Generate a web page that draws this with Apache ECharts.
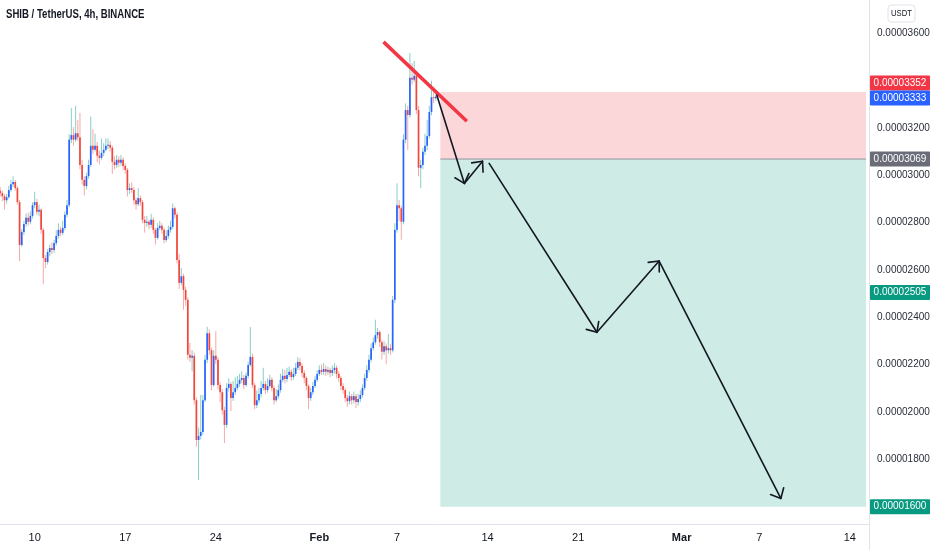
<!DOCTYPE html>
<html>
<head>
<meta charset="utf-8">
<script src="https://cdn.jsdelivr.net/npm/echarts@6/dist/echarts.min.js"></script>
<style>html,body{margin:0;padding:0;background:#fff;}#c{width:932px;height:550px;}</style>
</head>
<body>
<div id="c"></div>
<script>
// ---- DATA (prices in units of 1e-8 USDT) ----
const firstCandle = '2022-01-07T08:00:00Z';
const candleHours = 4;
const firstOpen = 2935;
const closes = [
2925,2912,2895,2908,2938,2963,2972,2946,2887,2706,
2761,2795,2821,2804,2829,2874,2887,2846,2855,2770,
2651,2634,2676,2693,2685,2714,2744,2770,2757,2778,
2834,2874,3151,3170,3151,3178,3161,3044,2981,2955,
2997,3044,3125,3108,3125,3083,3074,3095,3108,3125,
3129,3117,3057,3044,3066,3053,3066,3040,3023,2938,
2946,2938,2895,2878,2904,2887,2812,2799,2804,2791,
2812,2770,2736,2778,2787,2770,2727,2744,2770,2782,
2861,2834,2642,2546,2574,2516,2474,2242,2229,2238,
2050,1882,1899,1916,2050,2221,2333,2261,2114,2238,
2221,2114,2084,2008,1946,2102,2119,2059,2084,2102,
2119,2136,2144,2114,2153,2199,2233,2114,2029,2050,
2076,2102,2119,2093,2110,2136,2102,2050,2067,2093,
2136,2153,2140,2157,2170,2148,2161,2187,2212,2195,
2165,2144,2110,2059,2084,2110,2136,2161,2178,2170,
2182,2170,2178,2165,2178,2187,2161,2144,2110,2093,
2059,2046,2067,2050,2067,2042,2055,2072,2102,2144,
2178,2221,2270,2295,2325,2338,2295,2255,2278,2261,
2270,2261,2474,2770,2874,2861,2804,3151,3276,3255,
3413,3404,3421,3276,3032,3044,3100,3125,3166,3268,
3330,3326,3333];
const highs = [
2951,2936,2921,2921,2956,2981,2996,2981,2954,2896,
2773,2808,2838,2843,2848,2886,2931,2901,2876,2861,
2778,2663,2688,2708,2718,2728,2768,2798,2783,2808,
2848,2896,3174,3284,3204,3294,3234,3264,3066,2996,
3011,3066,3249,3196,3176,3141,3106,3156,3136,3156,
3156,3146,3126,3081,3086,3081,3086,3076,3051,3031,
2966,2971,2951,2906,2946,2916,2896,2828,2828,2813,
2838,2823,2778,2798,2808,2798,2778,2768,2788,2808,
2881,2868,2843,2668,2608,2585,2530,2485,2292,2262,
2252,2062,1934,2072,2072,2242,2360,2350,2272,2262,
2342,2232,2127,2097,2022,2122,2142,2127,2132,2147,
2152,2162,2172,2157,2167,2212,2359,2247,2122,2092,
2102,2132,2187,2132,2142,2157,2147,2112,2097,2117,
2162,2182,2177,2187,2192,2182,2187,2207,2232,2227,
2207,2177,2152,2117,2102,2127,2152,2177,2197,2202,
2207,2197,2192,2187,2197,2207,2197,2172,2152,2122,
2102,2072,2087,2077,2087,2077,2077,2092,2117,2162,
2197,2242,2290,2315,2390,2355,2345,2305,2300,2290,
2330,2287,2490,2798,2966,2896,2871,3174,3304,3294,
3517,3474,3484,3434,3294,3066,3116,3176,3234,3294,
3400,3360,3355];
const lows = [
2911,2891,2856,2881,2901,2931,2951,2936,2876,2638,
2698,2748,2783,2788,2793,2818,2861,2833,2828,2753,
2540,2608,2623,2658,2668,2673,2703,2733,2743,2748,
2768,2823,2866,3136,3126,3141,3146,3026,2961,2916,
2941,2986,3036,3091,3101,3056,3046,3066,3081,3101,
3111,3101,3006,3026,3031,3036,3041,3021,3006,2911,
2921,2926,2876,2856,2871,2871,2798,2758,2783,2773,
2778,2753,2708,2728,2768,2753,2713,2718,2733,2758,
2773,2818,2628,2520,2535,2432,2450,2222,2212,2172,
2032,1854,1713,1884,1904,2042,2207,2242,2092,2107,
2202,2097,2042,1989,1869,1934,2087,2004,2047,2072,
2092,2107,2122,2097,2107,2142,2192,2102,2012,2017,
2037,2062,2092,2077,2082,2102,2087,2032,2042,2057,
2082,2127,2122,2127,2147,2132,2137,2152,2177,2177,
2147,2122,2092,2012,2047,2072,2102,2127,2152,2157,
2157,2152,2157,2147,2152,2162,2142,2127,2092,2077,
2042,2022,2032,2032,2037,2017,2027,2042,2062,2092,
2132,2167,2210,2260,2285,2310,2275,2222,2242,2202,
2247,2242,2252,2460,2758,2808,2728,2793,3136,3108,
3244,3384,3394,3259,2996,2946,3026,3086,3106,3156,
3254,3305,3315];

// time axis labels
const timeLabelDates = ['2022-01-10','2022-01-17','2022-01-24','2022-02-01','2022-02-07','2022-02-14','2022-02-21','2022-03-01','2022-03-07','2022-03-14'];
const timeLabels = ['10','17','24','Feb','7','14','21','Mar','7','14'];
const monthLabels = ['Feb','Mar'];
// price axis labels
const priceTicks = [1800,2000,2200,2400,2600,2800,3000,3200,3600];
// right-scale price tags
const tagValues = [3352,3333,3069,2505,1600];

// position drawing (short): stop / entry / target, start & end date
const stopPrice = 3352, entryPrice = 3069, targetPrice = 1600;
const boxStart = '2022-02-10T08:24:00Z', boxEnd = '2022-03-15T06:00:00Z';
// red trend line
const trendDates = ['2022-02-05T23:00:00Z','2022-02-12T09:36:00Z'];
const trendPrices = [3564,3229];
// projected black arrow path
const pathDates = ['2022-02-10T02:00:00Z','2022-02-12T05:00:00Z','2022-02-13T14:40:00Z'];
const pathPrices = [3339,2966,3060];
const path2Dates = ['2022-02-14T03:00:00Z','2022-02-22T10:50:00Z','2022-02-27T06:15:00Z','2022-03-08T16:00:00Z'];
const path2Prices = [3051,2337,2638,1635];

// ---- helpers ----
const DAY = 86400000;
const ref = Date.parse('2022-01-10T00:00:00Z');
const toDay = s => (Date.parse(s.length === 10 ? s + 'T00:00:00Z' : s) - ref) / DAY;
const fmt = v => (v / 1e8).toFixed(8);

const t0 = toDay(firstCandle);
const opens = [firstOpen].concat(closes.slice(0, -1));
const candleData = closes.map((c, i) => [t0 + i * candleHours / 24, opens[i], c, lows[i], highs[i]]);

const labelDays = timeLabelDates.map(toDay);
const labelMap = {};
labelDays.forEach((d, i) => { labelMap[d.toFixed(3)] = timeLabels[i]; });

const segs = [];
for (let i = 0; i + 1 < pathDates.length; i++) segs.push([toDay(pathDates[i]), pathPrices[i], toDay(pathDates[i+1]), pathPrices[i+1]]);
for (let i = 0; i + 1 < path2Dates.length; i++) segs.push([toDay(path2Dates[i]), path2Prices[i], toDay(path2Dates[i+1]), path2Prices[i+1]]);

const F = "'Liberation Sans',Arial,sans-serif";
const xMin = -2.68, xMax = 64.48;

const chart = echarts.init(document.getElementById('c'), null, {renderer: 'canvas'});

const option = {
  animation: false,
  backgroundColor: '#ffffff',
  grid: {left: 0, right: 63, top: 0, bottom: 26, containLabel: false, outerBoundsMode: 'none'},
  xAxis: {
    type: 'value', min: xMin, max: xMax,
    splitLine: {show: false},
    axisLine: {show: true, onZero: false, lineStyle: {color: '#e0e3eb', width: 1}},
    axisTick: {show: false},
    axisLabel: {
      customValues: labelDays,
      margin: 8,
      hideOverlap: false,
      fontFamily: F, fontSize: 11, color: '#131722',
      formatter: v => {
        const s = labelMap[v.toFixed(3)] || '';
        return monthLabels.indexOf(s) >= 0 ? '{b|' + s + '}' : s;
      },
      rich: {b: {fontWeight: 'bold', fontFamily: F, fontSize: 11, color: '#131722'}}
    }
  },
  yAxis: {
    type: 'value', position: 'right', min: 1527, max: 3741,
    splitLine: {show: false},
    axisLine: {show: true, onZero: false, lineStyle: {color: '#e0e3eb', width: 1}},
    axisTick: {show: false},
    axisLabel: {
      customValues: priceTicks,
      margin: 8,
      fontFamily: F, fontSize: 10, color: '#2a2e39',
      formatter: v => fmt(v)
    }
  },
  series: [
    {
      // position boxes
      type: 'custom',
      z: 1,
      silent: true,
      data: [[toDay(boxStart), stopPrice, toDay(boxEnd), entryPrice, 0], [toDay(boxStart), entryPrice, toDay(boxEnd), targetPrice, 1]],
      encode: {x: [0, 2], y: [1, 3]},
      renderItem: (params, api) => {
        const a = api.coord([api.value(0), api.value(1)]);
        const b = api.coord([api.value(2), api.value(3)]);
        const red = api.value(4) === 0;
        const children = [{
          type: 'rect',
          shape: {x: a[0], y: Math.min(a[1], b[1]), width: b[0] - a[0], height: Math.abs(b[1] - a[1])},
          style: {fill: red ? 'rgba(242,54,69,0.2)' : 'rgba(8,153,129,0.2)'}
        }];
        if (!red) children.push({
          type: 'line', shape: {x1: a[0], y1: a[1], x2: b[0], y2: a[1]},
          style: {stroke: 'rgba(120,123,134,0.75)', lineWidth: 1}
        });
        return {type: 'group', children};
      }
    },
    {
      // candles
      type: 'custom',
      z: 2,
      silent: true,
      data: candleData,
      encode: {x: 0, y: [1, 2, 3, 4]},
      renderItem: (params, api) => {
        const x = api.value(0), o = api.value(1), c = api.value(2), l = api.value(3), h = api.value(4);
        const pO = api.coord([x, o]), pC = api.coord([x, c]), pL = api.coord([x, l]), pH = api.coord([x, h]);
        const up = c >= o;
        const bw = 1.7;
        const top = Math.min(pO[1], pC[1]);
        const hh = Math.max(Math.abs(pO[1] - pC[1]), 1);
        return {type: 'group', children: [
          {type: 'line', shape: {x1: pH[0], y1: pH[1], x2: pL[0], y2: pL[1]},
           style: {stroke: up ? 'rgba(38,166,154,0.55)' : 'rgba(239,83,80,0.5)', lineWidth: 1}},
          {type: 'rect', shape: {x: pO[0] - bw / 2, y: top, width: bw, height: hh},
           style: {fill: up ? '#2962ff' : '#f0463c'}}
        ]};
      }
    },
    {
      // red trend line
      type: 'line',
      z: 4,
      silent: true,
      symbol: 'none',
      data: trendDates.map((d, i) => [toDay(d), trendPrices[i]]),
      lineStyle: {color: '#f23645', width: 3.5, cap: 'butt'}
    },
    {
      // black arrows
      type: 'custom',
      z: 5,
      silent: true,
      data: segs,
      encode: {x: [0, 2], y: [1, 3]},
      renderItem: (params, api) => {
        const p1 = api.coord([api.value(0), api.value(1)]);
        const p2 = api.coord([api.value(2), api.value(3)]);
        const ang = Math.atan2(p2[1] - p1[1], p2[0] - p1[0]);
        const L = 11, th = 42 * Math.PI / 180;
        const a1 = [p2[0] - L * Math.cos(ang - th), p2[1] - L * Math.sin(ang - th)];
        const a2 = [p2[0] - L * Math.cos(ang + th), p2[1] - L * Math.sin(ang + th)];
        const st = {stroke: '#131722', lineWidth: 1.6, lineCap: 'round', lineJoin: 'round'};
        return {type: 'group', children: [
          {type: 'line', shape: {x1: p1[0], y1: p1[1], x2: p2[0], y2: p2[1]}, style: st},
          {type: 'polyline', shape: {points: [a1, p2, a2]}, style: Object.assign({fill: 'none'}, st)}
        ]};
      }
    }
  ]
};
chart.setOption(option);

// right-scale price tags, title and currency badge
const tagColors = ['#f23645', '#2962ff', '#6a6d78', '#089981', '#089981'];
const tagH = 15;
const ys = tagValues.map(v => chart.convertToPixel({yAxisIndex: 0}, v));
ys[1] += 1.5;
if (ys[1] - ys[0] < tagH) ys[0] = ys[1] - tagH;
const graphics = [];
tagValues.forEach((v, i) => {
  graphics.push({type: 'rect', z: 100, shape: {x: 870, y: ys[i] - tagH / 2, width: 60, height: tagH, r: 1}, style: {fill: tagColors[i]}});
  graphics.push({type: 'text', z: 101, x: 900, y: ys[i], style: {text: fmt(v), fill: '#ffffff', font: '10px ' + F, align: 'center', verticalAlign: 'middle'}});
});
graphics.push({type: 'text', z: 101, x: 6, y: 15, scaleX: 0.8, style: {text: 'SHIB / TetherUS, 4h, BINANCE', fill: '#131722', font: 'bold 12px ' + F, verticalAlign: 'middle'}});
graphics.push({type: 'rect', z: 100, shape: {x: 888, y: 5, width: 27, height: 17, r: 3}, style: {fill: '#ffffff', stroke: '#e0e3eb', lineWidth: 1}});
graphics.push({type: 'text', z: 101, x: 901.5, y: 13.5, scaleX: 0.85, style: {text: 'USDT', fill: '#131722', font: '9px ' + F, align: 'center', verticalAlign: 'middle'}});
graphics.push({type: 'line', z: 100, shape: {x1: 869.5, y1: 524, x2: 869.5, y2: 550}, style: {stroke: '#e0e3eb', lineWidth: 1}});
chart.setOption({graphic: graphics});
</script>
</body>
</html>
